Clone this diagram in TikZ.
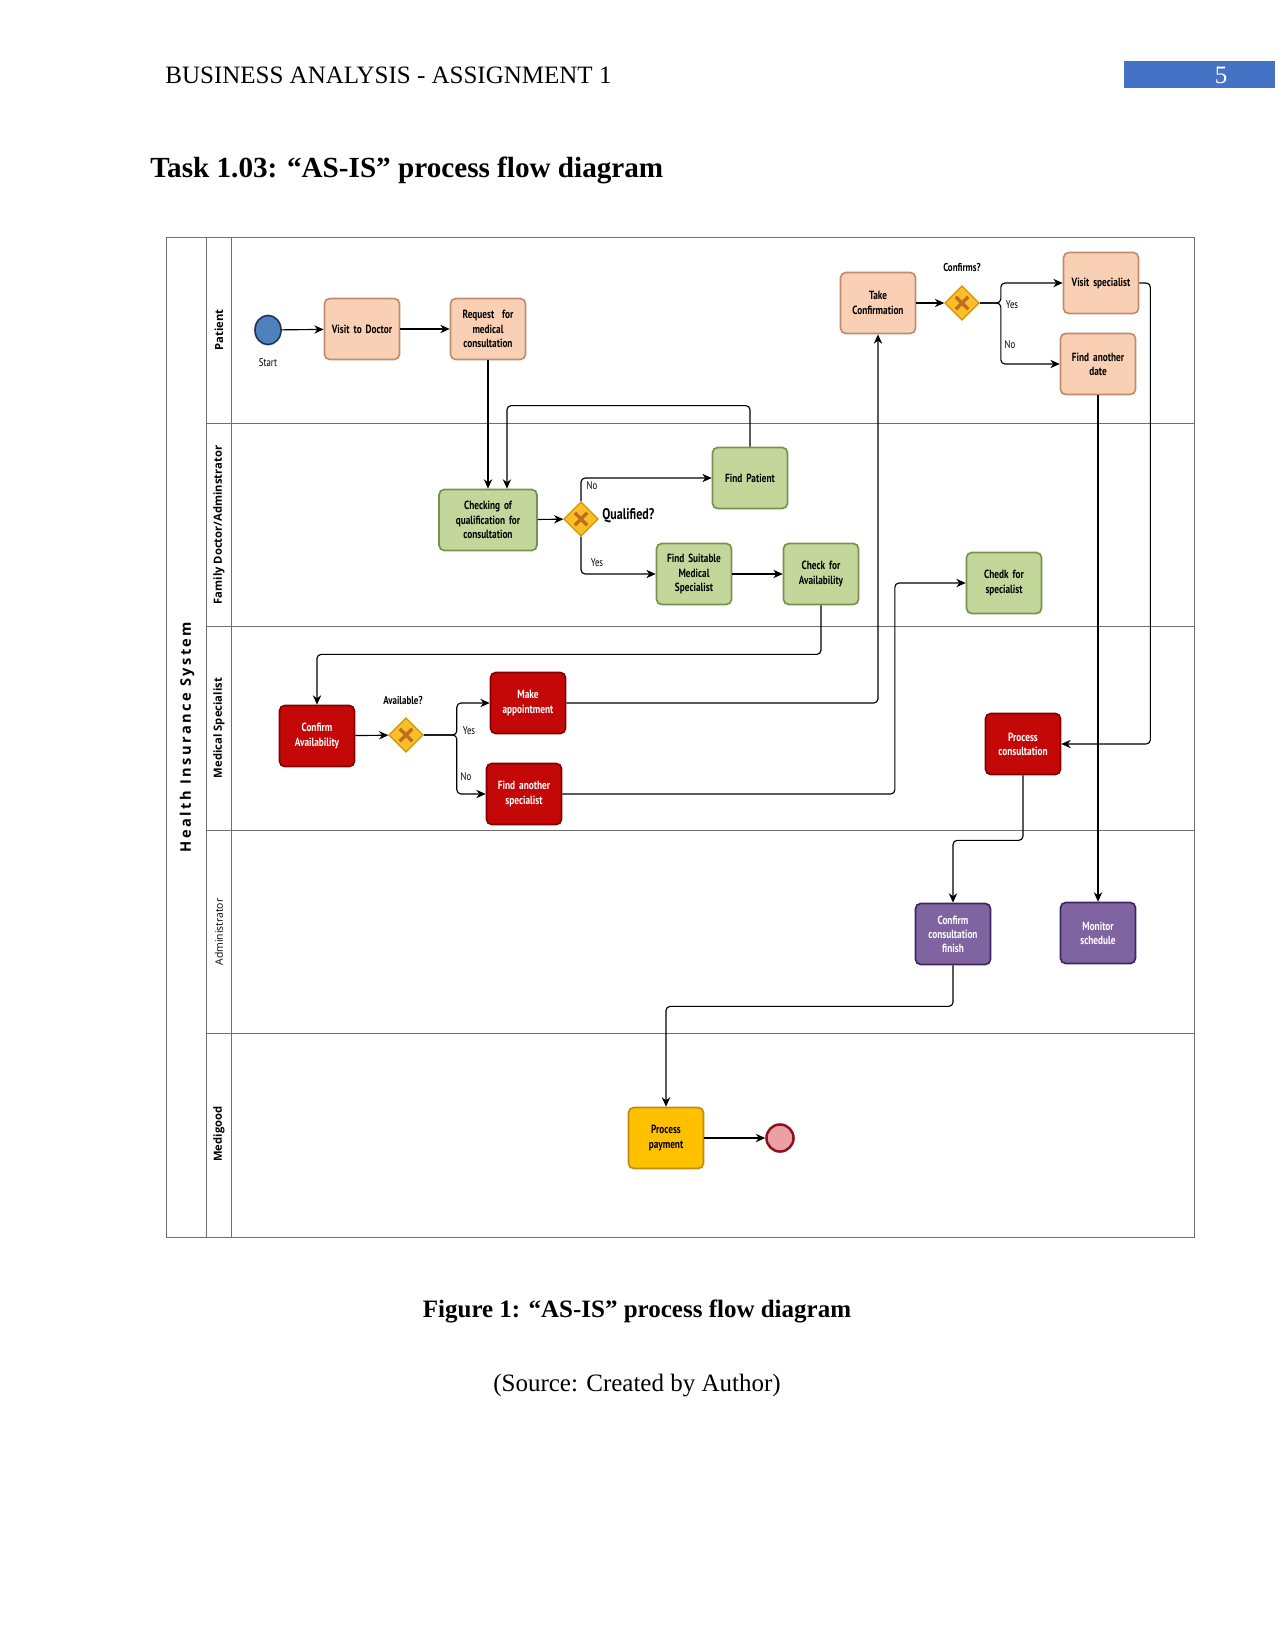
\documentclass[tikz,border=0pt]{standalone}
\usepackage{fontspec}
\setmainfont{Liberation Serif}
\newfontfamily\nf{PT Sans}[FakeStretch=0.78]
\newfontfamily\lf{Open Sans}
\usetikzlibrary{shapes.geometric,arrows.meta}
\definecolor{peachF}{RGB}{250,208,180}
\definecolor{peachD}{RGB}{190,140,110}
\definecolor{greenF}{RGB}{196,215,155}
\definecolor{greenD}{RGB}{120,145,80}
\definecolor{redF}{RGB}{196,8,8}
\definecolor{redD}{RGB}{130,0,0}
\definecolor{purpF}{RGB}{128,100,162}
\definecolor{purpD}{RGB}{60,40,95}
\definecolor{yelF}{RGB}{255,192,0}
\definecolor{yelD}{RGB}{190,140,20}
\definecolor{gwF}{RGB}{250,190,40}
\definecolor{gwD}{RGB}{205,150,0}
\definecolor{gwX}{RGB}{190,110,30}
\definecolor{startF}{RGB}{79,129,189}
\definecolor{startD}{RGB}{30,55,95}
\definecolor{endF}{RGB}{236,160,165}
\definecolor{endD}{RGB}{140,20,30}
\definecolor{hdrblue}{RGB}{68,114,196}
\definecolor{laneline}{RGB}{110,110,110}
\tikzset{
  task/.style={rounded corners=2.5pt, minimum width=35pt, minimum height=29.3pt,
    line width=0.8pt, align=center, text width=34pt, inner sep=1pt,
    font=\nf\bfseries\fontsize{5.7}{6.8}\selectfont},
  ptask/.style={task, fill=peachF, draw=peachD, text=black},
  gtask/.style={task, fill=greenF, draw=greenD, text=black},
  rtask/.style={task, fill=redF, draw=redD, text=white},
  vtask/.style={task, fill=purpF, draw=purpD, text=white},
  ytask/.style={task, fill=yelF, draw=yelD, text=black},
  gate/.style={diamond, minimum width=16.5pt, minimum height=16.5pt, inner sep=0pt,
    fill=gwF, draw=gwD, line width=0.6pt},
  arr/.style={-{Stealth[length=4.5pt,width=4pt]}, line width=0.55pt, rounded corners=2pt},
  lbl/.style={font=\nf\fontsize{5.4}{6.4}\selectfont, inner sep=0pt},
  blbl/.style={font=\nf\bfseries\fontsize{5.5}{6.6}\selectfont, inner sep=0pt},
  lanelbl/.style={rotate=90, font=\lf\bfseries\fontsize{5.4}{6.5}\selectfont, inner sep=0pt},
  lane/.style={laneline, line width=0.45pt},
}
\newcommand\gatex[1]{%
  \draw[gwX, line width=1.6pt] (#1.center) ++(-3pt,-3pt) -- ++(6pt,6pt);
  \draw[gwX, line width=1.6pt] (#1.center) ++(-3pt,3pt) -- ++(6pt,-6pt);}
\begin{document}
\begin{tikzpicture}[x=0.48pt, y=-0.48pt]
\path[use as bounding box] (0,0) rectangle (1275,1651);

% header
\node[anchor=west, inner sep=0pt, font=\fontsize{12}{14}\selectfont] (hdr) at (165,75) {BUSINESS ANALYSIS - ASSIGNMENT 1};
\fill[hdrblue] (1124,61) rectangle (1275,88);
\node[text=white, inner sep=0pt, font=\fontsize{12}{14}\selectfont] (pg) at (1221,75) {5};
\node[anchor=west, inner sep=0pt, font=\bfseries\fontsize{14}{17}\selectfont] (title) at (150,170) {Task 1.03: “AS-IS” process flow diagram};

% pool frame
\draw[lane] (166,237) rectangle (1194,1237);
\draw[lane] (206,237) -- (206,1237);
\draw[lane] (231,237) -- (231,1237);
\foreach \yy in {423,626,830,1033} {\draw[lane] (206,\yy) -- (1194,\yy);}

\node[rotate=90, inner sep=0pt, font=\lf\bfseries\fontsize{7}{8}\selectfont] (pool) at (187,737) {H\,e\,a\,l\,t\,h\ \,I\,n\,s\,u\,r\,a\,n\,c\,e\ \,S\,y\,s\,t\,e\,m};
\node[lanelbl] (l1) at (219,330) {Patient};
\node[lanelbl] (l2) at (219,525) {Family Doctor/Adminstrator};
\node[lanelbl] (l3) at (219,728) {Medical Specialist};
\node[lanelbl, font=\lf\fontsize{5}{6}\selectfont] (l4) at (219,932) {Administrator};
\node[lanelbl] (l5) at (219,1134) {Medigood};

% lane 1: Patient
\node[ellipse, minimum width=12.5pt, minimum height=14pt, inner sep=0pt, fill=startF, draw=startD, line width=0.8pt] (start) at (268,330) {};
\node[lbl] (startl) at (268,363) {Start};
\node[ptask] (visit) at (362,329) {Visit to Doctor};
\node[ptask] (req) at (488,329) {Request~ for\\medical\\consultation};
\node[ptask] (tc) at (878,303) {Take\\Confirmation};
\node[gate] (gc) at (962,303) {};
\gatex{gc}
\node[blbl] (gcl) at (962,267) {Confirms?};
\node[ptask] (vs) at (1101,283) {Visit specialist};
\node[ptask] (fd) at (1098,364) {Find another\\date};
\node[lbl] (yes1) at (1012,305) {Yes};
\node[lbl] (no1) at (1010,345) {No};

% lane 2: Family doctor
\node[gtask, minimum width=46pt, text width=45pt] (chk) at (488,520) {Checking of\\qualification for\\consultation};
\node[gate] (gq) at (581,519) {};
\gatex{gq}
\node[anchor=west, inner sep=0pt, font=\nf\bfseries\fontsize{7.4}{8}\selectfont] (gql) at (602,516) {Qualified?};
\node[gtask] (fp) at (750,478) {Find Patient};
\node[lbl] (no2) at (592,486) {No};
\node[lbl] (yes2) at (597,563) {Yes};
\node[gtask] (fs) at (694,574) {Find Suitable\\Medical\\Specialist};
\node[gtask] (ca) at (821,574) {Check for\\Availability};
\node[gtask] (cs) at (1004,583) {Chedk for\\specialist};

% lane 3: Medical specialist
\node[rtask] (cav) at (317,736) {Confirm\\Availability};
\node[gate] (ga) at (406,735) {};
\gatex{ga}
\node[blbl] (gal) at (403,700) {Available?};
\node[rtask] (ma) at (528,703) {Make\\appointment};
\node[rtask] (fa) at (524,794) {Find another\\specialist};
\node[lbl] (yes3) at (469,731) {Yes};
\node[lbl] (no3) at (466,777) {No};
\node[rtask] (pc) at (1023,744) {Process\\consultation};

% lane 4: Administrator
\node[vtask] (ccf) at (953,934) {Confirm\\consultation\\finish};
\node[vtask] (mon) at (1098,933) {Monitor\\schedule};

% lane 5: Medigood
\node[ytask] (pp) at (666,1138) {Process\\payment};
\node[circle, minimum size=13pt, inner sep=0pt, fill=endF, draw=endD, line width=1.2pt] (end) at (780,1138) {};

% connectors
\draw[arr] (start) -- (visit);
\draw[arr] (visit) -- (req);
\draw[arr] (req) -- (chk);
\draw[arr] (fp.north) -- ++(0,-41) -| ([xshift=9.1pt]chk.north);
\draw[arr] (chk) -- (gq);
\draw[arr] (gq.north) |- (fp.west);
\draw[arr] (gq.south) |- (fs.west);
\draw[arr] (fs) -- (ca);
\draw[arr] (ca.south) -- ++(0,49) -| (cav.north);
\draw[arr] (cav) -- (ga);
\draw[arr] (ga.east) -- ++(33,0) |- (ma.west);
\draw[arr] (ga.east) -- ++(33,0) |- (fa.west);
\draw[arr] (ma.east) -| (tc.south);
\draw[arr] (fa.east) -| ([xshift=-34pt]cs.west) -- (cs.west);
\draw[arr] (tc) -- (gc);
\draw[arr] (gc.east) -- ++(21,0) |- (vs.west);
\draw[arr] (gc.east) -- ++(21,0) |- (fd.west);
\draw[arr] (vs.east) -- ++(11,0) |- (pc.east);
\draw[arr] (fd.south) -- (mon.north);
\draw[arr] (pc.south) -- ++(0,65) -| (ccf.north);
\draw[arr] (ccf.south) -- ++(0,41) -| (pp.north);
\draw[arr] (pp) -- (end);

% caption
\node[inner sep=0pt, font=\bfseries\fontsize{12}{14}\selectfont] (cap) at (637,1311) {Figure 1: “AS-IS” process flow diagram};
\node[inner sep=0pt, font=\fontsize{12}{14}\selectfont] (src) at (637,1386) {(Source: Created by Author)};
\end{tikzpicture}
\end{document}
